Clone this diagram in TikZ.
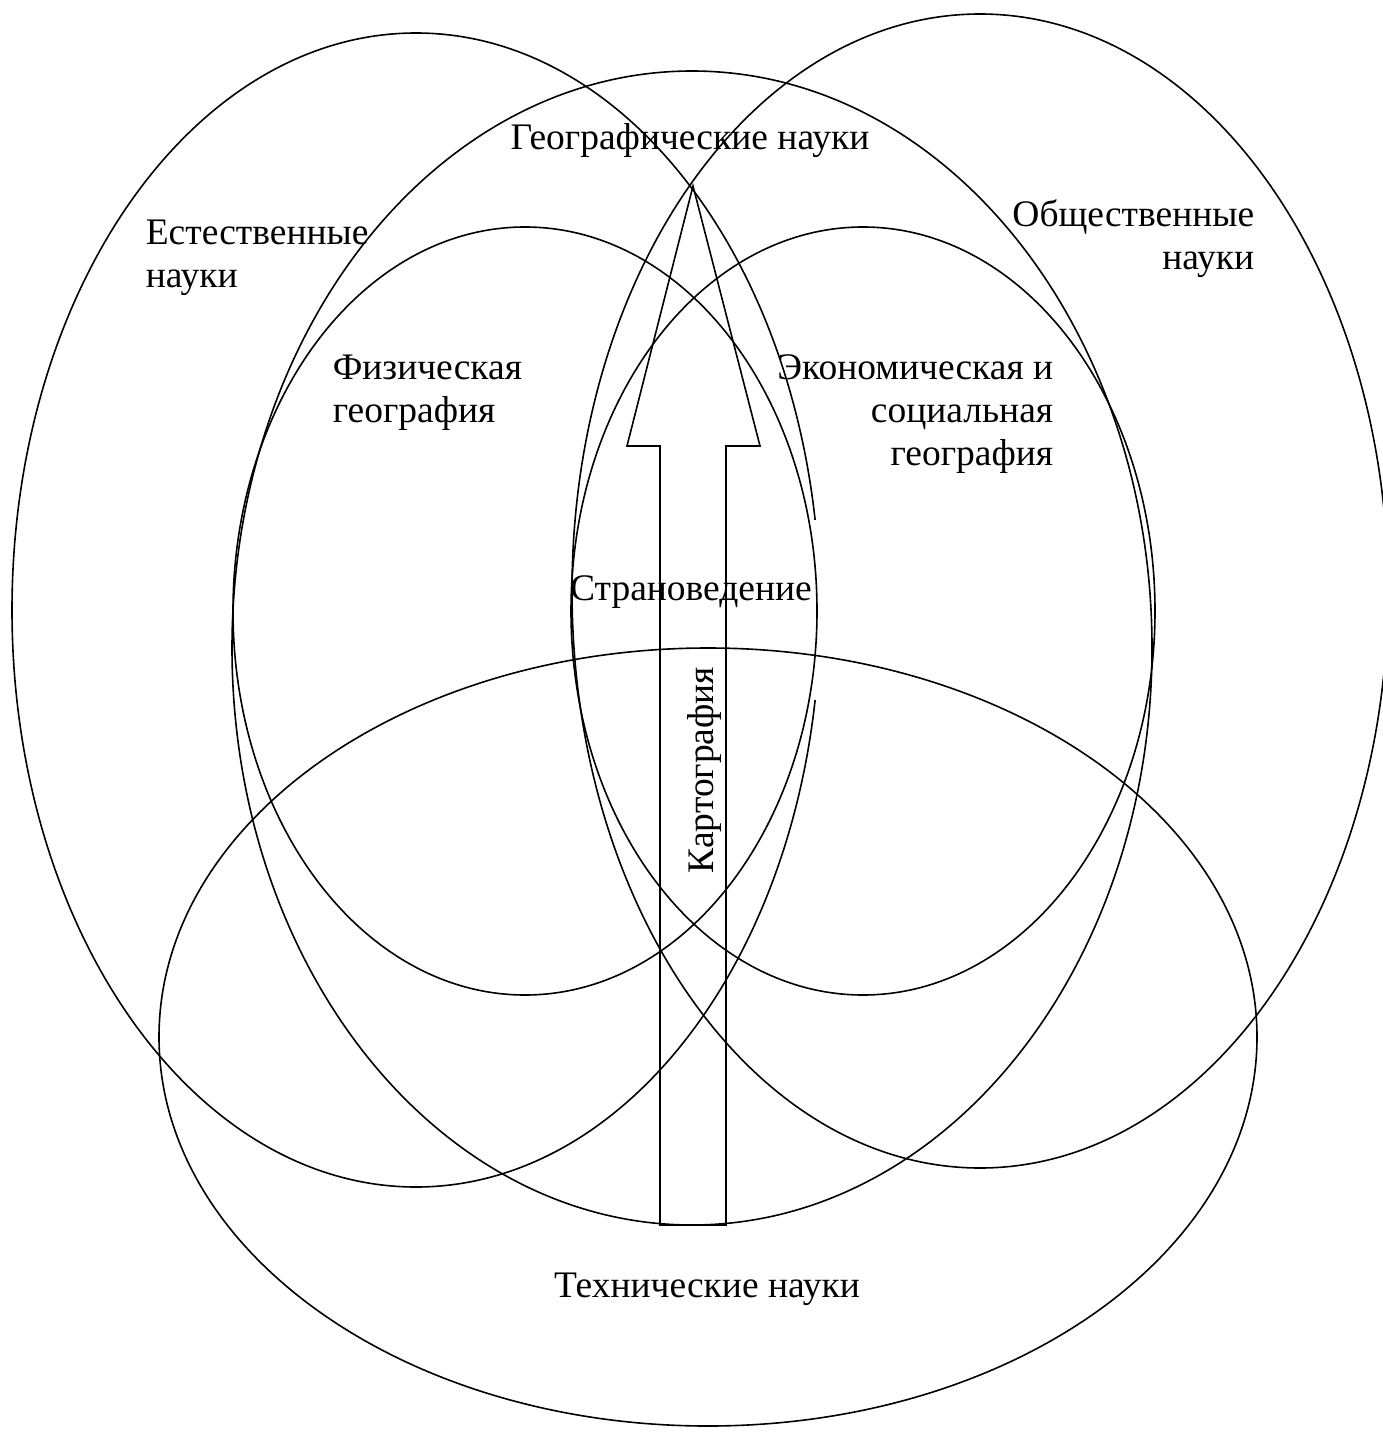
\documentclass[tikz,border=0pt]{standalone}
\usepackage{fontspec}
\setmainfont{Liberation Serif}
\usepackage{tikz}
\usetikzlibrary{shapes.geometric}

\begin{document}
\begin{tikzpicture}[x=1pt,y=-1pt,line width=1.6pt,font=\fontsize{37.5}{43}\selectfont]
  \tikzstyle{field}=[ellipse,draw,inner sep=0pt]
  \tikzstyle{txt}=[inner sep=0pt]

  \useasboundingbox (0,0) rectangle (1383,1434);

  \node[field,minimum width=808pt,minimum height=1154pt] (natural) at (416,610) {};
  \fill[white] (790,520) rectangle (840,700);
  \node[field,minimum width=816pt,minimum height=1154pt] (social) at (980,591) {};
  \node[field,minimum width=920pt,minimum height=1154pt] (geo)    at (692,648) {};
  \node[field,minimum width=584pt,minimum height=768pt]  (phys)   at (525,611) {};
  \node[field,minimum width=584pt,minimum height=768pt]  (econ)   at (863,611) {};
  \node[field,minimum width=1098pt,minimum height=778pt] (tech)   at (708,1037) {};

  \draw (660,1225) -- (660,446) -- (627,446) -- (693,186) -- (760,446) -- (726,446) -- (726,1225) -- cycle;

  \node[txt,anchor=base]                   (geolbl)     at (690,150)  {Географические науки};
  \node[txt,anchor=base west,align=left]   (natlbl)     at (145,287)  {Естественные\\науки};
  \node[txt,anchor=base east,align=right]  (soclbl)     at (1255,269) {Общественные\\науки};
  \node[txt,anchor=base west,align=left]   (physlbl)    at (332,422)  {Физическая\\география};
  \node[txt,anchor=base east,align=right]  (econlbl)    at (1054,465) {Экономическая и\\социальная\\география};
  \node[txt,anchor=base]                   (countrylbl) at (691,600)  {Страноведение};
  \node[txt,anchor=base,rotate=90]         (cartolbl)   at (713,770)  {Картография};
  \node[txt,anchor=base]                   (techlbl)    at (707,1297) {Технические науки};
\end{tikzpicture}
\end{document}
